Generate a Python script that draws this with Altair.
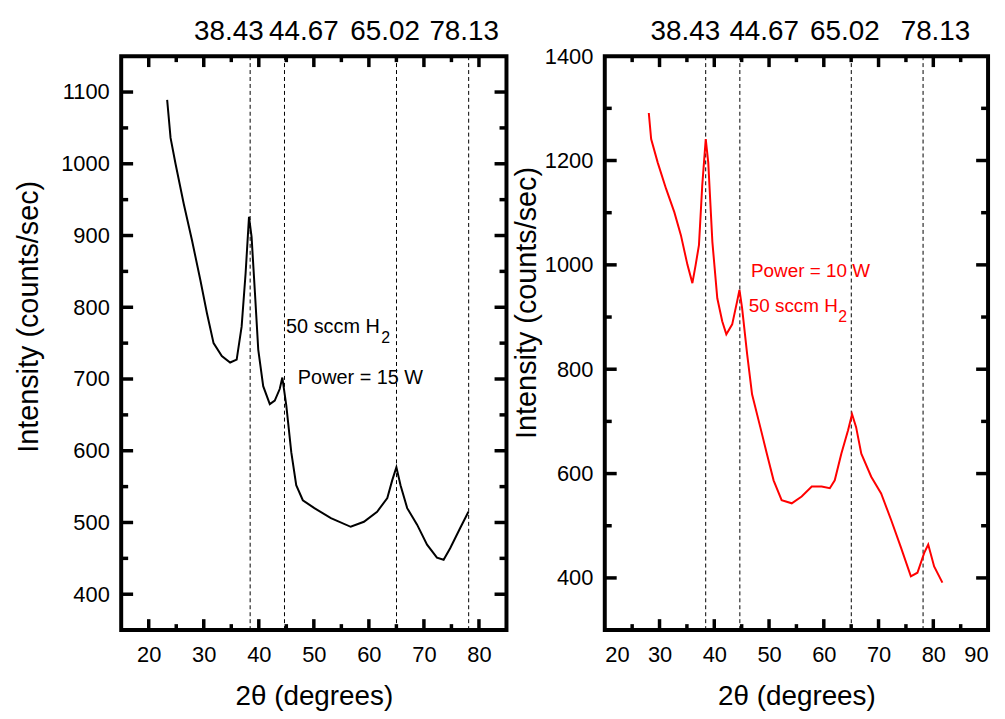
import altair as alt
import pandas as pd

F = "Liberation Sans"

# ---------------- data ----------------
left_x = [23.35, 23.97, 24.87, 26.37, 27.87, 29.38, 30.57, 31.78, 33.28, 34.79, 35.98,
          36.88, 37.6, 38.22, 38.69, 39.3, 39.9, 40.8, 42.0, 42.9, 43.8, 44.28, 45.0,
          45.9, 46.8, 48.0, 50.1, 53.1, 56.7, 59.1, 61.5, 63.35, 64.25, 65.0, 65.75,
          66.96, 68.76, 70.57, 72.37, 73.58, 74.77, 76.57, 78.09]
left_y = [1089, 1036, 1000, 944, 893, 838, 792, 750, 732, 723, 727,
          773, 847, 926, 898, 820, 741, 690, 665, 670, 686, 702, 663,
          598, 552, 531, 520, 506, 494, 501, 515, 534, 559, 577, 552,
          520, 497, 469, 451, 448, 464, 492, 515]

right_x = [28.04, 28.47, 29.67, 31.19, 32.7, 33.9, 35.1, 36.0, 36.6, 37.2, 37.8, 38.44,
           38.9, 39.65, 40.55, 41.45, 42.2, 43.27, 44.17, 44.6, 45.08, 46.0, 46.9, 48.4,
           49.6, 50.83, 52.3, 54.15, 55.96, 57.8, 59.6, 61.1, 62.0, 63.2, 64.43, 65.16,
           65.9, 66.85, 68.66, 70.47, 72.3, 74.1, 75.9, 77.1, 78.34, 79.07, 80.15, 81.66]
right_y = [1291, 1241, 1196, 1146, 1101, 1057, 1000, 965, 1000, 1038, 1152, 1241,
           1196, 1044, 936, 892, 867, 886, 930, 952, 917, 829, 752, 689,
           638, 587, 549, 543, 556, 575, 575, 572, 587, 638, 683, 714,
           689, 638, 594, 562, 511, 458, 403, 410, 448, 464, 422, 391]

peaks = [38.43, 44.67, 65.02, 78.13]

left_xdom = [15, 85]
left_ydom = [350, 1150]
left_xmaj = [20, 30, 40, 50, 60, 70, 80]
left_xmin = [25, 35, 45, 55, 65, 75]
left_ymaj = [400, 500, 600, 700, 800, 900, 1000, 1100]
left_ymin = [450, 550, 650, 750, 850, 950, 1050]
left_xlab = [20, 30, 40, 50, 60, 70, 80]
left_ylab = [400, 500, 600, 700, 800, 900, 1000, 1100]

right_xdom = [20, 90]
right_ydom = [300, 1400]
right_xmaj = [30, 40, 50, 60, 70, 80]
right_xmin = [25, 35, 45, 55, 65, 75, 85]
right_ymaj = [400, 600, 800, 1000, 1200]
right_ymin = [500, 700, 900, 1100, 1300]
right_xlab = [20, 30, 40, 50, 60, 70, 80, 90]
right_ylab = [400, 600, 800, 1000, 1200, 1400]

left_ann_text = ["50 sccm H", "Power = 15 W"]
left_ann_x = [44.95, 47.1]
left_ann_y = [764, 693]
right_ann_text = ["Power = 10 W", "50 sccm H"]
right_ann_x = [46.7, 46.3]
right_ann_y = [977, 909]


def panel(xs, ys, color, xdom, ydom, xmaj, xmin, ymaj, ymin, xlab, ylab,
          ann_text, ann_x, ann_y, ann_color, ann_size, sub_idx, sub_dx, top_offsets,
          W, H, ytitle_pad, ytitle_y):
    xs_ = alt.Scale(domain=xdom, nice=False, zero=False)
    ys_ = alt.Scale(domain=ydom, nice=False, zero=False)

    bottom_axis = alt.Axis(orient="bottom", values=xlab, ticks=False, domain=False, grid=False,
                           labelFont=F, labelFontSize=22, labelColor="black", labelPadding=15,
                           format="d", labelOverlap=False,
                           title="2θ (degrees)", titleFont=F, titleFontSize=28,
                           titleFontWeight="normal", titleColor="black", titlePadding=17)
    left_axis = alt.Axis(orient="left", values=ylab, ticks=False, domain=False, grid=False,
                         labelFont=F, labelFontSize=22, labelColor="black", labelPadding=12,
                         format="d", labelOverlap=False,
                         title="Intensity (counts/sec)", titleFont=F, titleFontSize=29,
                         titleFontWeight="normal", titleColor="black", titlePadding=ytitle_pad,
                         titleY=ytitle_y)
    top_axis = alt.Axis(orient="top", values=peaks, ticks=False, domain=False, grid=False,
                        labelFont=F, labelFontSize=28, labelColor="black", labelPadding=11,
                        format=".2f", labelOverlap=False, title=None,
                        labelOffset={"condition": [
                            {"test": "datum.value < 40", "value": top_offsets[0]},
                            {"test": "datum.value < 50", "value": top_offsets[1]},
                            {"test": "datum.value < 70", "value": top_offsets[2]}],
                            "value": top_offsets[3]})

    df = pd.DataFrame({"x": xs, "y": ys})
    line = alt.Chart(df).mark_line(color=color, strokeWidth=2).encode(
        x=alt.X("x:Q", scale=xs_, axis=bottom_axis),
        y=alt.Y("y:Q", scale=ys_, axis=left_axis),
    )
    pk = alt.Chart(pd.DataFrame({"p": peaks})).mark_rule(
        color="black", strokeWidth=1, strokeDash=[4, 3]).encode(
        x=alt.X("p:Q", scale=xs_, axis=top_axis))

    layers = [pk, line]

    def xt(vals, y0, y1):
        return alt.Chart(pd.DataFrame({"v": vals})).mark_rule(color="black", strokeWidth=3.5).encode(
            x=alt.X("v:Q", scale=xs_, axis=None), y=alt.value(y0), y2=alt.value(y1))

    def yt(vals, x0, x1):
        return alt.Chart(pd.DataFrame({"v": vals})).mark_rule(color="black", strokeWidth=3.5).encode(
            y=alt.Y("v:Q", scale=ys_, axis=None), x=alt.value(x0), x2=alt.value(x1))

    layers += [xt(xmaj, H, H - 11), xt(xmin, H, H - 6), xt(xmaj, 0, 11), xt(xmin, 0, 6),
               yt(ymaj, 0, 12), yt(ymin, 0, 7), yt(ymaj, W, W - 12), yt(ymin, W, W - 7)]

    adf = pd.DataFrame({"t": ann_text, "x": ann_x, "y": ann_y})
    ann = alt.Chart(adf).mark_text(align="left", baseline="alphabetic", font=F, fontSize=ann_size,
                                   color=ann_color).encode(
        x=alt.X("x:Q", scale=xs_, axis=None), y=alt.Y("y:Q", scale=ys_, axis=None), text="t:N")
    sdf = pd.DataFrame({"t": ["2"], "x": [ann_x[sub_idx]], "y": [ann_y[sub_idx]]})
    sub = alt.Chart(sdf).mark_text(align="left", baseline="alphabetic", font=F, fontSize=16,
                                   color=ann_color, dx=sub_dx, dy=10).encode(
        x=alt.X("x:Q", scale=xs_, axis=None), y=alt.Y("y:Q", scale=ys_, axis=None), text="t:N")
    layers += [ann, sub]

    return alt.layer(*layers).resolve_axis(x="independent", y="independent").properties(
        width=W, height=H)


left = panel(left_x, left_y, "black", left_xdom, left_ydom, left_xmaj, left_xmin,
             left_ymaj, left_ymin, left_xlab, left_ylab,
             left_ann_text, left_ann_x, left_ann_y, "black", 20, 0, 96, [-22, 19, -12, -5],
             388, 578, 17, 262)
right = panel(right_x, right_y, "#ff0000", right_xdom, right_ydom, right_xmaj, right_xmin,
              right_ymaj, right_ymin, right_xlab, right_ylab,
              right_ann_text, right_ann_x, right_ann_y, "#ff0000", 19, 1, 90, [-21, 24, -7, 12],
              386, 578, 3, 248)

chart = alt.hconcat(left, right, spacing=0).properties(
    padding={"left": 5, "top": 5, "right": 5, "bottom": 0},
    background="white",
).configure_view(stroke="black", strokeWidth=4)

chart.save("out.html", embed_options={"renderer": "svg", "actions": False})
